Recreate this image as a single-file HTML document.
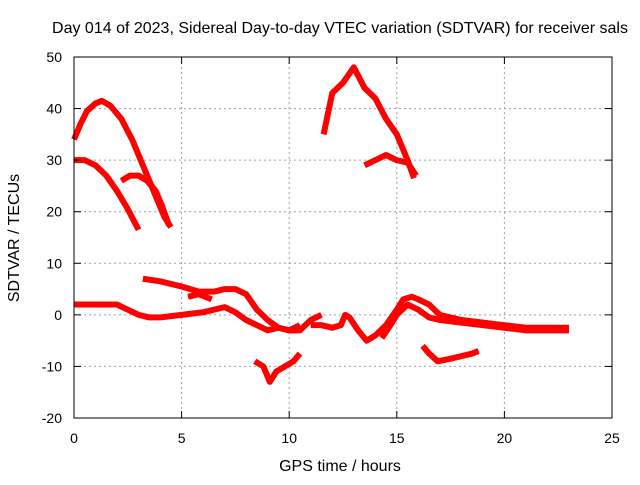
<!DOCTYPE html>
<html><head><meta charset="utf-8"><style>
body{margin:0;background:#fff}
svg text{font-family:"Liberation Sans",sans-serif;font-size:14px;fill:#000}
svg text.big{font-size:16px}
</style></head><body>
<svg id="chart" width="640" height="480" xmlns="http://www.w3.org/2000/svg">
<rect width="640" height="480" fill="#fff"/>
<text class="big" x="340" y="33" text-anchor="middle">Day 014 of 2023, Sidereal Day-to-day VTEC variation (SDTVAR) for receiver sals</text>
<text class="big" x="340" y="471" text-anchor="middle">GPS time / hours</text>
<text class="big" x="19" y="238" text-anchor="middle" transform="rotate(-90 19 238)">SDTVAR / TECUs</text>
<g id="grid"></g><g id="series"></g><g id="ticks"></g>
<rect x="74" y="57" width="538" height="361" fill="none" stroke="#000" stroke-width="1"/>
</svg>
<script>
const xTicks=[0,5,10,15,20,25];
const yTicks=[-20,-10,0,10,20,30,40,50];
const s1=[[0,34],[0.3,37],[0.6,39.5],[1,41],[1.3,41.5],[1.7,40.5],[2.2,38],[2.7,34],[3.2,29],[3.7,24],[4.2,19],[4.5,17]];
const s2=[[0,30],[0.5,30],[1,29],[1.5,27],[2,24],[2.5,20.5],[3,16.5]];
const s3=[[2.2,26],[2.6,27],[3,27],[3.4,26],[3.8,24],[4.1,21],[4.4,17.5]];
const s4=[[11.6,35],[12,43],[12.5,45],[13,48],[13.5,44],[14,42],[14.5,38],[15,35],[15.5,30],[15.8,26.5]];
const s5=[[13.5,29],[14,30],[14.5,31],[15,30],[15.5,29.5],[15.9,27]];
const s6=[[3.2,7],[4,6.5],[5,5.5],[5.8,4.5],[6.5,4.5],[7,5],[7.5,5],[8,4],[8.5,1],[9,-1],[9.5,-2.5],[10,-3],[10.5,-2]];
const s6b=[[5.3,3.5],[5.8,4],[6.4,3]];
const s7=[[0,2],[1,2],[2,2],[2.5,1],[3,0],[3.5,-0.5],[4,-0.5],[5,0],[6,0.5],[7,1.5],[7.5,0.5],[8,-1],[8.5,-2],[9,-3],[9.5,-2.5],[10,-3],[10.5,-3],[11,-1],[11.5,0]];
const s8=[[8.4,-9],[8.8,-10],[9.1,-13],[9.4,-11],[9.8,-10],[10.2,-9],[10.5,-7.5]];
const s9=[[11,-2],[11.5,-2],[12,-2.5],[12.4,-2],[12.6,0],[12.8,-0.5],[13.2,-3],[13.6,-5],[14,-4],[14.5,-2],[15,1],[15.3,3],[15.7,3.5],[16,3],[16.5,2],[17,0],[18,-1],[19,-1.5],[20,-2],[21,-2.5],[22,-2.5],[23,-2.5]];
const s10=[[14.3,-4.5],[14.7,-2],[15,0],[15.5,2],[16,1],[16.5,-0.5],[17,-1],[18,-1.5],[19,-2],[20,-2.5],[21,-3],[22,-3],[23,-3]];
const s11=[[16.2,-6],[16.5,-7.5],[16.9,-9],[17.5,-8.5],[18,-8],[18.5,-7.5],[18.8,-7]];
const allSeries=[s1,s2,s3,s4,s5,s6,s6b,s7,s8,s9,s10,s11];
const NS="http://www.w3.org/2000/svg";
const X=v=>74+v*538/25, Y=v=>418-(v+20)*361/70;
const g=document.getElementById('grid'),t=document.getElementById('ticks'),sg=document.getElementById('series');
function mk(tag,a,p){const e=document.createElementNS(NS,tag);for(const k in a)e.setAttribute(k,a[k]);p.appendChild(e);return e;}
xTicks.forEach(v=>{
 if(v>0&&v<25){const l=mk('line',{x1:X(v),x2:X(v),y1:57,y2:418,stroke:'#a0a0a0','stroke-dasharray':'2,3'},g);
 
 }
 mk('line',{x1:X(v),x2:X(v),y1:418,y2:411,stroke:'#000'},t);
 mk('line',{x1:X(v),x2:X(v),y1:57,y2:64,stroke:'#000'},t);
 const tx=mk('text',{x:X(v),y:443,'text-anchor':'middle'},t);tx.textContent=v;
 
 
});
yTicks.forEach(v=>{
 if(v>-20&&v<50){const l=mk('line',{x1:74,x2:612,y1:Y(v),y2:Y(v),stroke:'#a0a0a0','stroke-dasharray':'2,3'},g);
 
 }
 mk('line',{x1:74,x2:81,y1:Y(v),y2:Y(v),stroke:'#000'},t);
 mk('line',{x1:605,x2:612,y1:Y(v),y2:Y(v),stroke:'#000'},t);
 const tx=mk('text',{x:62,y:Y(v)+5,'text-anchor':'end'},t);tx.textContent=v;
 
 
});
allSeries.forEach(s=>{
 const p=mk('polyline',{points:s.map(d=>X(d[0])+','+Y(d[1])).join(' '),fill:'none',stroke:'#ff0000','stroke-width':6,'stroke-linejoin':'round'},sg);
 
 
});
</script>
</body></html>
